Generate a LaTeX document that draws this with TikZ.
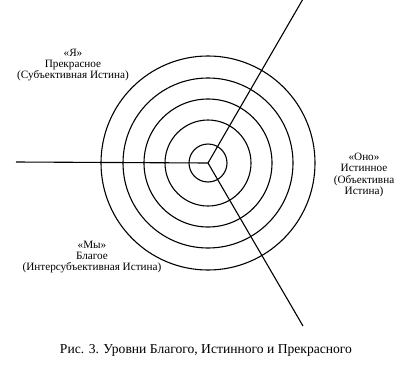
\documentclass[tikz,border=0pt]{standalone}
\usepackage{fontspec}
\setmainfont{Liberation Serif}
\begin{document}
\begin{tikzpicture}[x=1pt,y=-1pt,
  ring/.style={draw,line width=1.1pt},
  ray/.style={draw,line width=1.1pt},
  lbl/.style={align=center,font=\fontsize{11.2}{11.3}\selectfont,inner sep=0pt},
  captext/.style={font=\fontsize{13.6}{15}\selectfont,inner sep=0pt}]
\useasboundingbox (0,0) rectangle (398,364);
\coordinate (c) at (208,163);
\foreach \r in {19,43,64,85,107} \draw[ring] (c) circle[radius=\r];
\coordinate (top) at (303,-1);
\coordinate (bot) at (303,326);
\coordinate (lft) at (16,162);
\draw[ray] (c) -- (top);
\draw[ray] (c) -- (bot);
\draw[ray] (c) -- (lft);
\node[lbl] (ya) at (73,65) {«Я»\\Прекрасное\\(Субъективная Истина)};
\node[lbl] (ono) at (364,175) {«Оно»\\Истинное\\(Объективна\\Истина)};
\node[lbl] (my) at (92,257) {«Мы»\\Благое\\(Интерсубъективная Истина)};
\node[captext] (caption) at (206,350) {Рис. 3. Уровни Благого, Истинного и Прекрасного};
\end{tikzpicture}
\end{document}
